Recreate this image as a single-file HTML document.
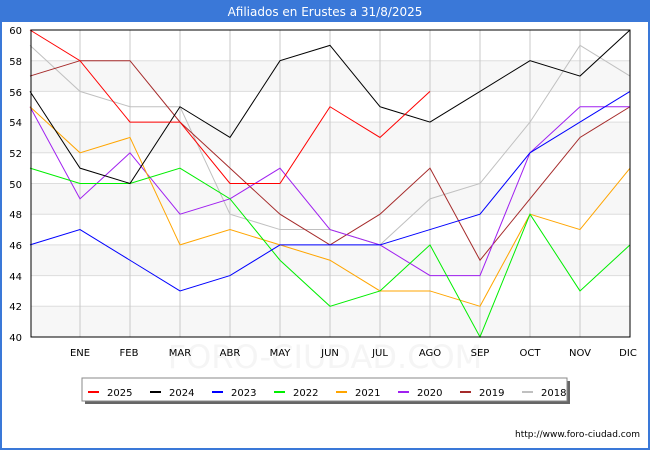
<!DOCTYPE html>
<html><head><meta charset="utf-8"><style>
body{margin:0;width:650px;height:450px;background:#fff;font-family:"DejaVu Sans",sans-serif;overflow:hidden}
</style></head><body>
<svg width="650" height="450" xmlns="http://www.w3.org/2000/svg" font-family="DejaVu Sans, sans-serif">
<rect x="0" y="0" width="650" height="450" fill="#fff"/>
<rect x="0" y="0" width="650" height="22" fill="#3a78d8"/>
<rect x="0" y="0" width="2" height="450" fill="#3a78d8"/>
<rect x="648" y="0" width="2" height="450" fill="#3a78d8"/>
<rect x="0" y="448" width="650" height="2" fill="#3a78d8"/>
<text x="325" y="16" fill="#fff" font-size="12" text-anchor="middle">Afiliados en Erustes a 31/8/2025</text>
<g fill="#f7f7f7">
<rect x="31" y="60.7" width="599" height="30.7"/>
<rect x="31" y="122.1" width="599" height="30.7"/>
<rect x="31" y="183.5" width="599" height="30.7"/>
<rect x="31" y="244.9" width="599" height="30.7"/>
<rect x="31" y="306.3" width="599" height="30.7"/>
</g>
<g stroke="#ddd" stroke-width="1">
<line x1="31" x2="630" y1="60.7" y2="60.7"/><line x1="31" x2="630" y1="91.4" y2="91.4"/>
<line x1="31" x2="630" y1="122.1" y2="122.1"/><line x1="31" x2="630" y1="152.8" y2="152.8"/>
<line x1="31" x2="630" y1="183.5" y2="183.5"/><line x1="31" x2="630" y1="214.2" y2="214.2"/>
<line x1="31" x2="630" y1="244.9" y2="244.9"/><line x1="31" x2="630" y1="275.6" y2="275.6"/>
<line x1="31" x2="630" y1="306.3" y2="306.3"/>
</g>
<g stroke="#c8c8c8" stroke-width="1">
<line x1="80" x2="80" y1="30" y2="337"/><line x1="130" x2="130" y1="30" y2="337"/>
<line x1="180" x2="180" y1="30" y2="337"/><line x1="230" x2="230" y1="30" y2="337"/>
<line x1="280" x2="280" y1="30" y2="337"/><line x1="330" x2="330" y1="30" y2="337"/>
<line x1="380" x2="380" y1="30" y2="337"/><line x1="430" x2="430" y1="30" y2="337"/>
<line x1="480" x2="480" y1="30" y2="337"/><line x1="530" x2="530" y1="30" y2="337"/>
<line x1="580" x2="580" y1="30" y2="337"/>
</g>
<text x="325" y="368" font-size="32" fill="#f5f5f5" text-anchor="middle">FORO-CIUDAD.COM</text>
<g transform="translate(30,337) scale(50,-15.35)" fill="none" stroke-width="1">
<polyline vector-effect="non-scaling-stroke" stroke="#c0c0c0" points="0,19 1,16 2,15 3,15 4,8 5,7 6,7 7,6 8,9 9,10 10,14 11,19 12,17"/>
<polyline vector-effect="non-scaling-stroke" stroke="#a52a2a" points="0,17 1,18 2,18 3,14 4,11 5,8 6,6 7,8 8,11 9,5 10,9 11,13 12,15"/>
<polyline vector-effect="non-scaling-stroke" stroke="#a020f0" points="0,15 1,9 2,12 3,8 4,9 5,11 6,7 7,6 8,4 9,4 10,12 11,15 12,15"/>
<polyline vector-effect="non-scaling-stroke" stroke="#ffa500" points="0,15 1,12 2,13 3,6 4,7 5,6 6,5 7,3 8,3 9,2 10,8 11,7 12,11"/>
<polyline vector-effect="non-scaling-stroke" stroke="#00ee00" points="0,11 1,10 2,10 3,11 4,9 5,5 6,2 7,3 8,6 9,0 10,8 11,3 12,6"/>
<polyline vector-effect="non-scaling-stroke" stroke="#0000ff" points="0,6 1,7 2,5 3,3 4,4 5,6 6,6 7,6 8,7 9,8 10,12 11,14 12,16"/>
<polyline vector-effect="non-scaling-stroke" stroke="#000" points="0,16 1,11 2,10 3,15 4,13 5,18 6,19 7,15 8,14 9,16 10,18 11,17 12,20"/>
<polyline vector-effect="non-scaling-stroke" stroke="#ff0000" points="0,20 1,18 2,14 3,14 4,10 5,10 6,15 7,13 8,16"/>
</g>
<rect x="31" y="30" width="599" height="307" fill="none" stroke="#000" stroke-width="1"/>
<g font-size="10" fill="#000" text-anchor="end">
<text x="22" y="34">60</text><text x="22" y="65">58</text><text x="22" y="96">56</text>
<text x="22" y="126">54</text><text x="22" y="157">52</text><text x="22" y="188">50</text>
<text x="22" y="218">48</text><text x="22" y="249">46</text><text x="22" y="280">44</text>
<text x="22" y="310">42</text><text x="22" y="341">40</text>
</g>
<g font-size="10" fill="#000" text-anchor="middle">
<text x="80" y="356">ENE</text><text x="129" y="356">FEB</text><text x="180" y="356">MAR</text>
<text x="230" y="356">ABR</text><text x="280" y="356">MAY</text><text x="330" y="356">JUN</text>
<text x="380" y="356">JUL</text><text x="430" y="356">AGO</text><text x="480" y="356">SEP</text>
<text x="530" y="356">OCT</text><text x="580" y="356">NOV</text><text x="628" y="356">DIC</text>
</g>
<rect x="85" y="381" width="485" height="23" fill="#666"/>
<rect x="82" y="378" width="485" height="23" fill="#fff" stroke="#888"/>
<g font-size="10" fill="#000">
<line x1="88" x2="99" y1="392" y2="392" stroke="#ff0000" stroke-width="2"/><text x="107" y="396">2025</text>
<line x1="150" x2="161" y1="392" y2="392" stroke="#000" stroke-width="2"/><text x="169" y="396">2024</text>
<line x1="212" x2="223" y1="392" y2="392" stroke="#0000ff" stroke-width="2"/><text x="231" y="396">2023</text>
<line x1="274" x2="285" y1="392" y2="392" stroke="#00ee00" stroke-width="2"/><text x="293" y="396">2022</text>
<line x1="336" x2="347" y1="392" y2="392" stroke="#ffa500" stroke-width="2"/><text x="355" y="396">2021</text>
<line x1="398" x2="409" y1="392" y2="392" stroke="#a020f0" stroke-width="2"/><text x="417" y="396">2020</text>
<line x1="460" x2="471" y1="392" y2="392" stroke="#a52a2a" stroke-width="2"/><text x="479" y="396">2019</text>
<line x1="522" x2="533" y1="392" y2="392" stroke="#c0c0c0" stroke-width="2"/><text x="541" y="396">2018</text>
</g>
<text x="640" y="437" font-size="9" fill="#000" text-anchor="end">http://www.foro-ciudad.com</text>
</svg>
</body></html>
